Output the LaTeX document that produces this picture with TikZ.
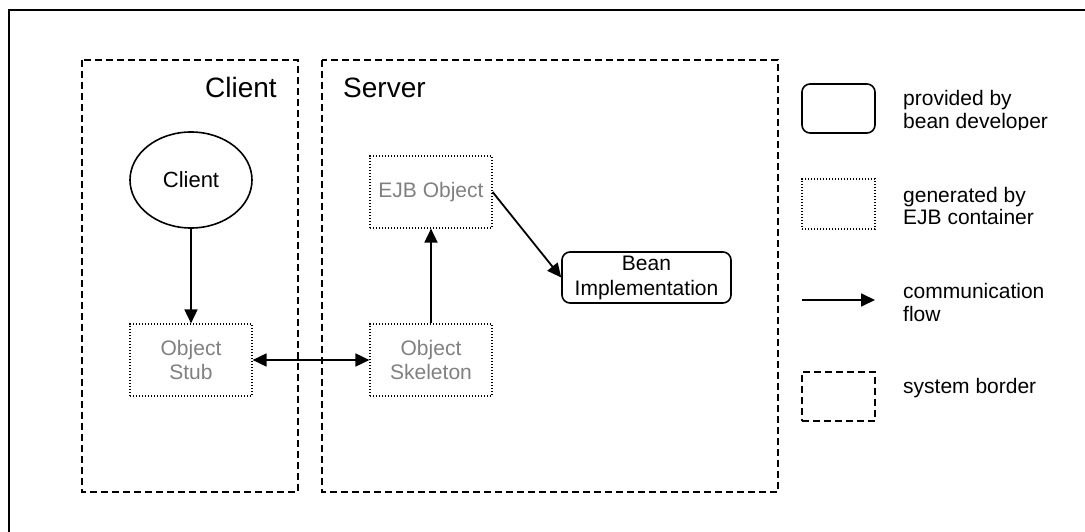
\documentclass[tikz,border=0pt]{standalone}
\usepackage{fontspec}
\setmainfont{Liberation Sans}
\usetikzlibrary{arrows.meta,shapes.geometric}
\definecolor{txtgray}{RGB}{128,128,128}
\begin{document}
\begin{tikzpicture}[x=1pt,y=-1pt,
  sysborder/.style={draw, line width=1.5pt, dash pattern=on 7pt off 4pt},
  genbox/.style={draw, line width=1.2pt, dash pattern=on 1.2pt off 1.8pt, minimum width=122pt, minimum height=72pt, inner sep=0pt, align=center, text=txtgray, font=\fontsize{21}{24}\selectfont},
  devbox/.style={draw, line width=1.6pt, rounded corners=8pt, inner sep=0pt, align=center, font=\fontsize{21}{25}\selectfont},
  flow/.style={line width=1.8pt, -{Triangle[length=14pt,width=13pt]}},
  legtext/.style={anchor=base west, inner sep=0pt, align=left, font=\fontsize{21}{23}\selectfont},
  titletext/.style={font=\fontsize{28}{30}\selectfont, inner sep=0pt}
]
\useasboundingbox (0,0) rectangle (1085,532);
% outer frame
\coordinate (fa) at (9,532);
\coordinate (fb) at (9,10);
\coordinate (fc) at (1085,10);
\draw[line width=2pt] (fa) -- (fb) -- (fc);

% system borders
\draw[sysborder] (82,60) rectangle (298,492);
\draw[sysborder] (322,60) rectangle (778,492);
\node[titletext, anchor=base east] (clienttitle) at (277,98) {Client};
\node[titletext, anchor=base west] (servertitle) at (343,98) {Server};

% nodes
\node[ellipse, draw, line width=1.6pt, minimum width=122pt, minimum height=96pt, inner sep=0pt, font=\fontsize{22}{24}\selectfont] (client) at (191,180) {Client};
\node[genbox] (stub) at (191,360) {Object\\Stub};
\node[genbox] (skel) at (431,360) {Object\\Skeleton};
\node[genbox] (ejb) at (431,192) {EJB Object};
\node[devbox, minimum width=169pt, minimum height=51pt] (bean) at (646.5,277.5) {Bean\\Implementation};

% connectors
\draw[flow] (client) -- (stub);
\draw[flow] (skel) -- (ejb);
\draw[flow] (ejb.east) -- (bean.west);
\draw[flow, {Triangle[length=14pt,width=13pt]}-{Triangle[length=14pt,width=13pt]}] (stub) -- (skel);

% legend
\node[devbox, minimum width=73pt, minimum height=49pt] (legdev) at (838.5,108.5) {};
\begin{scope}
\clip (895,80) rectangle (1085,130);
\node[legtext] (legdevtxt) at (903,129) {provided by\\bean developer};
\end{scope}
\node[genbox, minimum width=73pt, minimum height=50pt] (leggen) at (838.5,204) {};
\node[legtext] (leggentxt) at (903,225) {generated by\\EJB container};
\coordinate (flowa) at (802,300);
\coordinate (flowb) at (875,300);
\draw[flow] (flowa) -- (flowb);
\node[legtext] (legflowtxt) at (903,321) {communication\\flow};
\node[sysborder, minimum width=73pt, minimum height=49pt] (legsys) at (838.5,396.5) {};
\node[legtext] (legsystxt) at (903,393) {system border};
\end{tikzpicture}
\end{document}
